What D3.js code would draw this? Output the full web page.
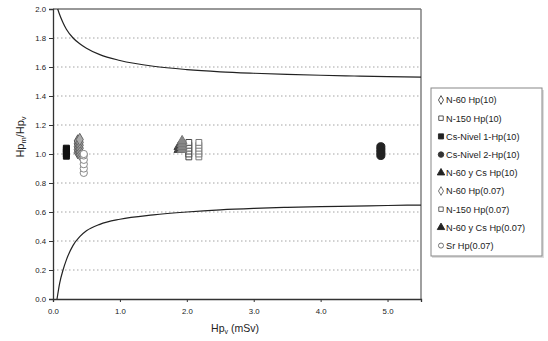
<!DOCTYPE html>
<html><head><meta charset="utf-8">
<script src="https://cdn.jsdelivr.net/npm/d3@7"></script>
<style>
html,body{margin:0;padding:0;background:#fff;}
text{font-family:"Liberation Sans",Arial,sans-serif;fill:#222;}
</style></head>
<body><svg id="c" width="548" height="341"></svg>
<script>
// ---- data ----
const xTicks = [0, 1, 2, 3, 4, 5];
const yTicks = [0, 0.2, 0.4, 0.6, 0.8, 1.0, 1.2, 1.4, 1.6, 1.8, 2.0];

const upperX = [0.07, 0.1, 0.15, 0.2, 0.3, 0.4, 0.5, 0.7, 1.0, 1.5, 2.0, 2.5, 3.0, 3.5, 4.0, 4.5, 5.0, 5.5];
const upperY = [2.0, 1.96, 1.905, 1.86, 1.80, 1.76, 1.73, 1.685, 1.645, 1.605, 1.582, 1.567, 1.557, 1.549, 1.543, 1.538, 1.534, 1.53];
const lowerX = [0.06, 0.1, 0.15, 0.2, 0.3, 0.4, 0.5, 0.7, 1.0, 1.5, 2.0, 2.5, 3.0, 3.5, 4.0, 4.5, 5.0, 5.5];
const lowerY = [0.0, 0.11, 0.2, 0.27, 0.37, 0.43, 0.47, 0.515, 0.55, 0.58, 0.60, 0.615, 0.625, 0.632, 0.637, 0.641, 0.645, 0.648];

const seriesNames = ["N-60 Hp(10)", "N-150 Hp(10)", "Cs-Nivel 1-Hp(10)", "Cs-Nivel 2-Hp(10)",
  "N-60 y Cs Hp(10)", "N-60 Hp(0.07)", "N-150 Hp(0.07)", "N-60 y Cs Hp(0.07)", "Sr Hp(0.07)"];
const seriesX = [0.37, 2.03, 0.2, 4.9, 1.88, 0.4, 2.18, 1.93, 0.46];
const n60Hp10 = [1.01, 1.03, 1.05, 1.07, 1.09];
const n150Hp10 = [0.98, 1.0, 1.02, 1.04, 1.06, 1.08];
const csN1Hp10 = [0.985, 1.0, 1.015, 1.03, 1.04];
const csN2Hp10 = [0.99, 1.01, 1.03, 1.05];
const n60CsHp10 = [1.03, 1.05];
const n60Hp007 = [1.0, 1.02, 1.04, 1.06, 1.08, 1.1];
const n150Hp007 = [0.98, 1.0, 1.02, 1.04, 1.06, 1.08];
const n60CsHp007 = [1.03, 1.05, 1.07, 1.09];
const srHp007 = [0.87, 0.90, 0.93, 0.96, 0.99, 1.0];
const seriesValues = [n60Hp10, n150Hp10, csN1Hp10, csN2Hp10, n60CsHp10, n60Hp007, n150Hp007, n60CsHp007, srHp007];

// styles
const symTypes = [d3.symbolDiamond, d3.symbolSquare, d3.symbolSquare, d3.symbolCircle, d3.symbolTriangle,
  d3.symbolDiamond, d3.symbolSquare, d3.symbolTriangle, d3.symbolCircle];
const fills = ["#999", "#fff", "#111", "#222", "#444", "#aaa", "#fff", "#888", "#fff"];
const strokes = ["#555", "#444", "#111", "#222", "#444", "#666", "#777", "#777", "#888"];

const svg = d3.select("#c");
const x = d3.scaleLinear().domain([0, 5.5]).range([53, 421]);
const y = d3.scaleLinear().domain([0, 2]).range([299, 9]);

// gridlines
svg.append("g").selectAll("line").data(yTicks.filter(d => d > 0 && d < 2)).join("line")
  .attr("x1", x(0)).attr("x2", x(5.5)).attr("y1", d => y(d)).attr("y2", d => y(d))
  .attr("stroke", "#9a9a9a").attr("stroke-width", 0.9).attr("stroke-dasharray", "1.5,2.5");

// border top/right
svg.append("line").attr("x1", x(0)).attr("x2", x(5.5)).attr("y1", y(2)).attr("y2", y(2))
  .attr("stroke", "#333").attr("stroke-width", 1.2);
svg.append("line").attr("x1", x(5.5)).attr("x2", x(5.5)).attr("y1", y(2)).attr("y2", y(0))
  .attr("stroke", "#777").attr("stroke-width", 1.4);

// axes
const xAxis = d3.axisBottom(x).tickValues(xTicks).tickFormat(d3.format(".1f")).tickSize(3).tickPadding(6);
const gx = svg.append("g").attr("transform", `translate(0,${y(0)})`).call(xAxis);
const yAxis = d3.axisLeft(y).tickValues(yTicks).tickFormat(d3.format(".1f")).tickSize(4).tickPadding(3);
const gy = svg.append("g").attr("transform", `translate(${x(0)},0)`).call(yAxis);
[gx, gy].forEach(g => {
  g.select(".domain").attr("stroke", "#333").attr("stroke-width", 1.3);
  g.selectAll(".tick line").attr("stroke", "#333");
  g.selectAll(".tick text").attr("font-size", 7.8).attr("fill", "#333")
    .style("font-family", "Liberation Sans, Arial, sans-serif");
});

// curves
const line = d3.line().x(d => x(d[0])).y(d => y(d[1])).curve(d3.curveMonotoneX);
svg.append("path").datum(upperX.map((v, i) => [v, upperY[i]])).attr("d", line)
  .attr("fill", "none").attr("stroke", "#222").attr("stroke-width", 1.2);
svg.append("path").datum(lowerX.map((v, i) => [v, lowerY[i]])).attr("d", line)
  .attr("fill", "none").attr("stroke", "#222").attr("stroke-width", 1.2);

// points
const sizes = [44, 34, 36, 52, 40, 44, 34, 40, 42];
seriesNames.forEach((name, i) => {
  svg.append("g").selectAll("path").data(seriesValues[i]).join("path")
    .attr("transform", d => `translate(${x(seriesX[i])},${y(d)})`)
    .attr("d", d3.symbol().type(symTypes[i]).size(sizes[i]))
    .attr("fill", fills[i]).attr("stroke", strokes[i]).attr("stroke-width", 1);
});

// axis titles
const yt = svg.append("text").attr("transform", "translate(24,137) rotate(-90)")
  .attr("text-anchor", "middle").attr("font-size", 11);
yt.append("tspan").text("Hp");
yt.append("tspan").text("m").attr("font-size", 7.5).attr("dy", 2);
yt.append("tspan").text("/Hp").attr("dy", -2);
yt.append("tspan").text("v").attr("font-size", 7.5).attr("dy", 2);

const xt = svg.append("text").attr("x", 235).attr("y", 332).attr("text-anchor", "middle").attr("font-size", 10.5);
xt.append("tspan").text("Hp");
xt.append("tspan").text("v").attr("font-size", 7).attr("dy", 2);
xt.append("tspan").text(" (mSv)").attr("dy", -2);

// legend
const lg = svg.append("g");
lg.append("rect").attr("x", 432).attr("y", 90).attr("width", 112).attr("height", 168)
  .attr("fill", "#bbb").attr("opacity", 0.5);
lg.append("rect").attr("x", 431).attr("y", 88).attr("width", 111).attr("height", 168)
  .attr("fill", "#fff").attr("stroke", "#888").attr("stroke-width", 1);
const lsizes = [22, 20, 26, 24, 24, 22, 20, 24, 20];
const lfills = ["#fff", "#fff", "#222", "#333", "#222", "#fff", "#fff", "#222", "#fff"];
const lstrokes = ["#444", "#444", "#222", "#333", "#222", "#666", "#555", "#222", "#666"];
seriesNames.forEach((name, i) => {
  const yy = 100 + i * 18.2;
  lg.append("path").attr("transform", `translate(441,${yy})`)
    .attr("d", d3.symbol().type(symTypes[i]).size(lsizes[i]))
    .attr("fill", lfills[i]).attr("stroke", lstrokes[i]).attr("stroke-width", 0.9);
  lg.append("text").attr("x", 446).attr("y", yy + 3.3).attr("font-size", 9.2).text(name);
});
</script></body></html>
